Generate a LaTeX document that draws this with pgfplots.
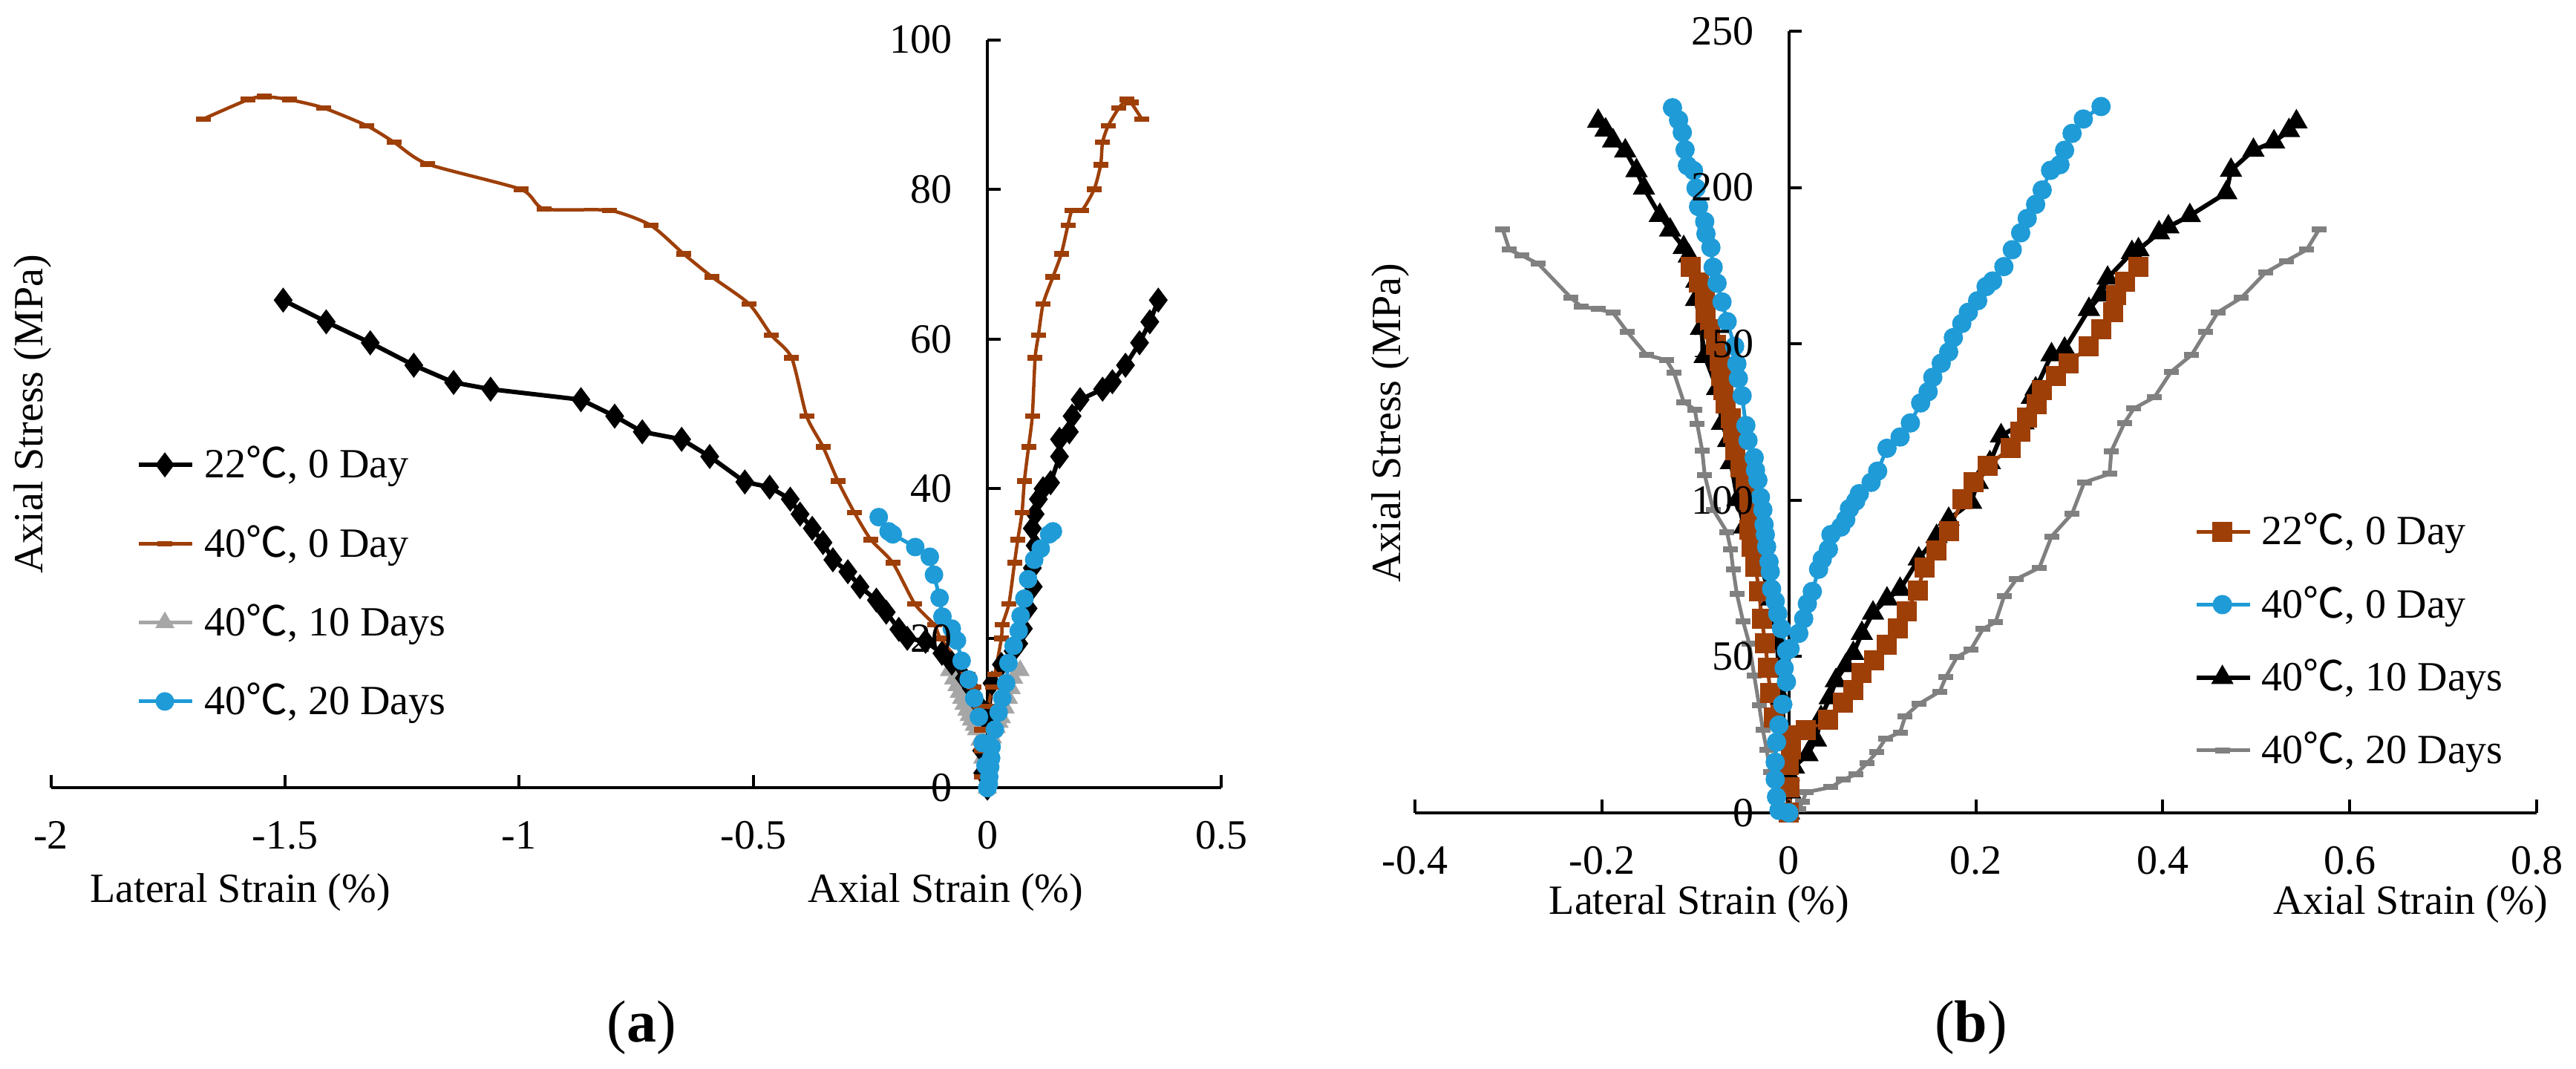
\documentclass[border=0pt]{standalone}
\usepackage{fontspec}
\setmainfont{Liberation Serif}
\newfontfamily\cjk{Noto Sans CJK SC}
\usepackage{pgfplots}
\pgfplotsset{compat=1.18}
\definecolor{cOr}{HTML}{9E3F08}
\definecolor{cBl}{HTML}{1F9BD7}
\definecolor{cGa}{HTML}{A6A6A6}
\definecolor{cGb}{HTML}{808080}
\newcommand{\dc}{{\cjk ℃}}
\newcommand{\fs}{\fontsize{11.2}{13.4}\selectfont}
\pgfplotsset{
  layers/mylayers/.define layer set={axis background,axis grid,axis ticks,axis lines,pre main,main,axis tick labels,axis descriptions,axis foreground}{
    grid style={/pgfplots/on layer=axis grid},
    tick style={/pgfplots/on layer=axis ticks},
    axis line style={/pgfplots/on layer=axis lines},
    label style={/pgfplots/on layer=axis descriptions},
    legend style={/pgfplots/on layer=axis descriptions},
    title style={/pgfplots/on layer=axis descriptions},
    colorbar style={/pgfplots/on layer=axis descriptions},
    ticklabel style={/pgfplots/on layer=axis tick labels},
    axis background@ style={/pgfplots/on layer=axis background},
    3d box foreground style={/pgfplots/on layer=axis foreground},
  },
  myaxis/.style={
    set layers=mylayers,
    scale only axis, anchor=south west, clip=false,
    axis x line=bottom, axis y line=middle,
    axis line style={-, line width=0.8pt, black},
    inner axis line style={-},
    tick align=inside,
    major tick length=3.5pt,
    tick style={line width=0.8pt, black},
    tick label style={font=\fs},
    /pgf/number format/assume math mode=true,
    xticklabel style={yshift=-5.5pt},
    yticklabel style={xshift=-6pt},
    hide obscured x ticks=false, hide obscured y ticks=false,
    legend cell align=left,
    legend image code/.code={\draw[mark repeat=2,mark phase=2] plot coordinates {(0pt,0pt) (7pt,0pt) (14.4pt,0pt)};},
  },
  sA1/.style={black, line width=1.2pt, mark=diamond*, mark size=2.4pt},
  sA2/.style={cOr, line width=0.9pt, mark=-, mark size=2pt, mark options={line width=1.5pt}},
  sA3/.style={cGa, line width=1pt, mark=triangle*, mark size=2pt},
  sA4/.style={cBl, line width=1pt, mark=*, mark size=2pt},
  sB1/.style={cOr, line width=1pt, mark=square*, mark size=2.2pt},
  sB2/.style={cBl, line width=1pt, mark=*, mark size=2.1pt},
  sB3/.style={black, line width=1.2pt, mark=triangle*, mark size=2.3pt},
  sB4/.style={cGb, line width=1pt, mark=-, mark size=2pt, mark options={line width=1.6pt}},
}
\begin{document}
\begin{tikzpicture}
\path (0,0) rectangle (694pt,288pt);
% ---------------- panel (a)
\begin{axis}[myaxis, at={(13.72pt,75.7pt)}, width=315.36pt, height=201.58pt,
  xmin=-2, xmax=0.5, ymin=0, ymax=100,
  xtick={-2,-1.5,-1,-0.5,0,0.5}, ytick={0,20,40,60,80,100},
  legend style={draw=none, fill=none, font=\fs, at={(0.0726,0.4677)}, anchor=north west, inner sep=0pt, row sep=7.2pt, nodes={inner xsep=2.6pt}}]
\addlegendimage{sA1}\addlegendentry{22\dc, 0 Day}
\addlegendimage{sA2}\addlegendentry{40\dc, 0 Day}
\addlegendimage{sA3}\addlegendentry{40\dc, 10 Days}
\addlegendimage{sA4}\addlegendentry{40\dc, 20 Days}
% 40C 10 days (gray triangles)
\addplot[sA3, forget plot] coordinates {(-0.081,15.7) (-0.072,14.6) (-0.065,13.7) (-0.060,12.8) (-0.055,12.0) (-0.050,11.2) (-0.044,10.4) (-0.039,9.7) (-0.034,9.1) (-0.028,8.4) (-0.023,7.8) (-0.016,6.4) (-0.010,4.0) (-0.005,2.0) (0,0)};
\addplot[sA3, forget plot] coordinates {(0,0) (0.002,1.4) (0.005,4.7) (0.011,6.7) (0.019,8.1) (0.025,8.8) (0.030,9.4) (0.038,10.7) (0.045,12.0) (0.051,13.3) (0.056,14.7) (0.070,15.7)};
% 22C 0 day (black diamonds)
\addplot[sA1, forget plot] coordinates {(-1.504,65.2) (-1.412,62.3) (-1.318,59.5) (-1.225,56.5) (-1.140,54.2) (-1.061,53.3) (-0.868,51.9) (-0.796,49.7) (-0.737,47.6) (-0.653,46.6) (-0.593,44.3) (-0.518,40.9) (-0.465,40.2) (-0.421,38.6) (-0.400,36.6) (-0.374,34.7) (-0.351,32.8) (-0.330,30.5) (-0.298,28.9) (-0.272,26.9) (-0.237,25.1) (-0.216,23.5) (-0.189,21.2) (-0.171,20.0) (-0.132,19.6) (-0.097,18.0) (-0.076,16.7) (-0.049,14.7) (-0.034,13.3) (-0.018,11.1) (-0.008,9.5) (-0.012,5.0) (-0.010,2.0) (0,0)};
\addplot[sA1, forget plot] coordinates {(0,0) (0.001,5.0) (0.002,9.8) (0.010,14.0) (0.030,16.5) (0.055,18.3) (0.067,19.3) (0.077,21.3) (0.087,24.0) (0.098,26.9) (0.096,29.4) (0.102,32.4) (0.096,34.7) (0.102,36.6) (0.109,38.6) (0.119,40.0) (0.135,40.8) (0.154,44.3) (0.154,46.6) (0.175,47.6) (0.181,49.7) (0.198,51.9) (0.246,53.3) (0.267,54.3) (0.295,56.5) (0.325,59.5) (0.347,62.3) (0.365,65.2)};
% 40C 0 day (orange dashes)
\addplot[sA2, smooth, tension=0.4, forget plot] coordinates {(-1.675,89.4) (-1.579,92.0) (-1.544,92.4) (-1.491,92.0) (-1.418,90.9) (-1.325,88.5) (-1.267,86.3) (-1.196,83.4) (-0.996,80.0) (-0.947,77.4) (-0.807,77.2) (-0.719,75.2) (-0.649,71.4) (-0.588,68.3) (-0.509,64.7) (-0.461,60.5) (-0.418,57.5) (-0.386,49.7) (-0.351,45.6) (-0.319,41.0) (-0.284,36.8) (-0.249,33.2) (-0.202,30.1) (-0.155,24.6) (-0.113,21.8) (-0.100,20.0) (-0.041,15.2) (-0.029,13.5) (-0.016,10.9) (-0.013,7.8) (-0.013,5.0) (-0.012,1.5) (0,0)};
\addplot[sA2, smooth, tension=0.4, forget plot] coordinates {(0,0) (0.003,5.0) (0.003,10.9) (0.011,13.5) (0.016,15.2) (0.030,20.0) (0.032,21.8) (0.046,24.6) (0.058,30.1) (0.065,33.2) (0.074,36.8) (0.079,41.0) (0.088,45.6) (0.096,49.7) (0.102,57.5) (0.109,60.5) (0.119,64.7) (0.140,68.3) (0.158,71.4) (0.172,75.2) (0.181,77.2) (0.202,77.2) (0.228,80.0) (0.242,83.3) (0.246,86.3) (0.258,88.5) (0.281,90.9) (0.298,92.0) (0.307,91.6) (0.330,89.4)};
% 40C 20 days (blue circles)
\addplot[sA4, forget plot] coordinates {(-0.232,36.2) (-0.211,34.3) (-0.202,33.9) (-0.154,32.2) (-0.123,30.9) (-0.114,28.5) (-0.102,25.4) (-0.096,22.9) (-0.076,21.3) (-0.065,19.7) (-0.055,17.0) (-0.040,14.5) (-0.028,12.0) (-0.018,9.5) (-0.010,6.0) (-0.004,3.0) (0,0)};
\addplot[sA4, forget plot] coordinates {(0,0) (0.003,0.5) (0.004,1.5) (0.006,2.8) (0.008,4.0) (0.009,5.5) (0.016,7.8) (0.024,10.1) (0.032,12.0) (0.040,14.0) (0.045,16.7) (0.056,19.0) (0.067,21.0) (0.071,23.0) (0.079,25.3) (0.087,27.9) (0.100,30.5) (0.114,32.0) (0.132,33.9) (0.140,34.3)};
\end{axis}
% ---------------- panel (b)
\begin{axis}[myaxis, at={(381.2pt,69pt)}, width=302.2pt, height=210.6pt,
  xmin=-0.4, xmax=0.8, ymin=0, ymax=250,
  xtick={-0.4,-0.2,0,0.2,0.4,0.6,0.8}, ytick={0,50,100,150,200,250},
  legend style={draw=none, fill=none, font=\fs, at={(0.694,0.394)}, anchor=north west, inner sep=0pt, row sep=5.6pt, nodes={inner xsep=2.6pt}}]
\addlegendimage{sB1}\addlegendentry{22\dc, 0 Day}
\addlegendimage{sB2}\addlegendentry{40\dc, 0 Day}
\addlegendimage{sB3}\addlegendentry{40\dc, 10 Days}
\addlegendimage{sB4}\addlegendentry{40\dc, 20 Days}
% 40C 20 days (gray)
\addplot[sB4, forget plot] coordinates {(-0.306,186.5) (-0.299,180.1) (-0.286,178.3) (-0.268,175.6) (-0.233,164.7) (-0.222,161.9) (-0.204,161.1) (-0.188,159.9) (-0.173,153.9) (-0.152,146.4) (-0.131,144.8) (-0.123,140.9) (-0.1125,131.4) (-0.1006,129.0) (-0.098,124.3) (-0.0927,115.9) (-0.0900,108.0) (-0.0808,96.9) (-0.0662,89.8) (-0.0622,84.3) (-0.0596,77.9) (-0.0556,70.0) (-0.049,61.3) (-0.0424,54.2) (-0.0371,43.9) (-0.0318,34.4) (-0.0278,26.5) (-0.0238,20.2) (-0.0199,13.1) (-0.0146,5.1) (-0.005,0.5) (0,0)};
\addplot[sB4, forget plot] coordinates {(0,0) (0.0106,1.2) (0.0146,3.5) (0.0185,6.6) (0.045,8.2) (0.0582,10.6) (0.0715,12.3) (0.0834,15.8) (0.094,19.4) (0.1033,23.7) (0.119,25.7) (0.1245,30.9) (0.139,34.8) (0.1615,38.8) (0.168,43.5) (0.180,49.9) (0.1946,52.2) (0.2078,58.9) (0.221,60.9) (0.2303,69.3) (0.2436,74.8) (0.268,78.4) (0.281,88.4) (0.303,95.7) (0.316,105.7) (0.343,108.4) (0.345,115.7) (0.359,124.7) (0.369,129.3) (0.391,132.9) (0.409,141.1) (0.431,146.5) (0.446,153.8) (0.459,160.1) (0.484,164.7) (0.510,172.8) (0.532,176.5) (0.554,180.1) (0.567,186.5)};
% 40C 10 days (black triangles)
\addplot[sB3, forget plot] coordinates {(-0.204,221.2) (-0.196,218.4) (-0.188,214.9) (-0.175,211.7) (-0.163,205.4) (-0.155,199.8) (-0.138,191.1) (-0.127,186.4) (-0.1125,180.8) (-0.107,178.1) (-0.099,170.0) (-0.0993,164.2) (-0.094,155.0) (-0.090,146.0) (-0.0768,135.7) (-0.0715,124.6) (-0.0649,119.1) (-0.062,112.0) (-0.055,100.2) (-0.0477,91.4) (-0.036,84.0) (-0.029,78.0) (-0.0185,68.4) (-0.0159,62.1) (-0.013,55.0) (-0.0106,46.3) (-0.008,36.7) (-0.004,24.0) (-0.002,9.4) (0,0)};
\addplot[sB3, forget plot] coordinates {(0,0) (0.0013,6.7) (0,12.3) (0.0053,14.7) (0.0199,18.6) (0.029,23.3) (0.0344,30.5) (0.0437,36.8) (0.0503,42.3) (0.0609,47.1) (0.0689,51.0) (0.0781,57.4) (0.090,63.9) (0.105,68.4) (0.119,71.5) (0.139,81.2) (0.158,88.4) (0.171,93.9) (0.195,99.3) (0.202,105.7) (0.215,112.0) (0.227,120.6) (0.251,124.7) (0.260,132.9) (0.264,135.6) (0.281,146.5) (0.295,148.3) (0.321,161.0) (0.334,165.6) (0.341,171.0) (0.367,179.2) (0.374,180.1) (0.396,185.5) (0.406,187.4) (0.429,191.0) (0.468,198.3) (0.473,205.5) (0.497,211.9) (0.519,214.6) (0.535,218.2) (0.543,221.0)};
% 22C 0 day (orange squares)
\addplot[sB1, forget plot] coordinates {(-0.1046,174.5) (-0.0966,169.7) (-0.090,165.0) (-0.0887,159.9) (-0.0847,154.7) (-0.078,149.6) (-0.074,144.4) (-0.0728,139.7) (-0.070,135.3) (-0.0675,131.0) (-0.062,126.2) (-0.0596,121.5) (-0.057,115.9) (-0.0516,110.4) (-0.0463,105.6) (-0.0423,100.1) (-0.0410,94.6) (-0.0423,90.6) (-0.0397,85.1) (-0.0357,78.7) (-0.0318,70.8) (-0.0291,62.1) (-0.0252,54.2) (-0.0225,46.3) (-0.0199,38.4) (-0.0159,30.4) (0.0015,24.0) (0.0026,20.2) (0,15.4) (0.001,8.3) (0,0)};
\addplot[sB1, forget plot] coordinates {(0,0) (0.001,8.3) (0,15.4) (0.0026,20.2) (0.0026,24.9) (0.0185,26.5) (0.0423,29.7) (0.0582,35.2) (0.0689,39.2) (0.078,44.7) (0.0913,48.7) (0.1046,53.8) (0.1165,59.0) (0.1258,64.5) (0.1377,71.2) (0.145,78.4) (0.158,83.9) (0.171,90.2) (0.186,100.2) (0.198,105.7) (0.213,111.1) (0.237,116.6) (0.248,122.0) (0.255,126.5) (0.265,130.7) (0.271,135.1) (0.286,139.8) (0.299,143.8) (0.321,149.2) (0.334,154.7) (0.347,160.1) (0.350,165.6) (0.360,169.8) (0.374,174.7)};
% 40C 0 day (blue circles)
\addplot[sB2, forget plot] coordinates {(-0.1245,225.5) (-0.118,221.6) (-0.114,217.6) (-0.111,212.1) (-0.1085,207.0) (-0.102,205.4) (-0.0993,199.8) (-0.0966,193.9) (-0.090,189.1) (-0.0887,185.2) (-0.0834,180.8) (-0.081,174.5) (-0.0768,169.4) (-0.0715,163.4) (-0.066,157.1) (-0.058,149.2) (-0.0556,143.6) (-0.054,138.9) (-0.050,133.4) (-0.046,123.9) (-0.0437,119.1) (-0.0371,113.6) (-0.0357,109.6) (-0.0331,106.4) (-0.0304,100.9) (-0.0278,96.9) (-0.0265,92.2) (-0.0252,89.0) (-0.0238,85.1) (-0.0212,80.3) (-0.0199,77.1) (-0.0185,71.6) (-0.0146,67.7) (-0.0119,63.7) (-0.0079,58.9) (-0.0026,51.8) (-0.005,46.3) (-0.0026,41.9) (-0.0066,34.7) (-0.0106,28.1) (-0.0132,22.6) (-0.0146,16.2) (-0.0146,10.7) (-0.0132,5.1) (-0.0106,0.8) (0,0)};
\addplot[sB2, forget plot] coordinates {(0.0013,52.5) (0.0106,57.4) (0.0159,62.1) (0.0198,66.9) (0.0251,70.8) (0.0318,77.9) (0.0357,81.1) (0.0423,84.3) (0.045,89.0) (0.0556,91.4) (0.0609,93.8) (0.0648,97.3) (0.0715,99.7) (0.0754,102.1) (0.088,105.7) (0.095,109.3) (0.105,116.6) (0.119,120.2) (0.130,124.7) (0.141,131.1) (0.149,134.7) (0.154,139.3) (0.163,143.8) (0.171,147.4) (0.176,152.0) (0.185,156.5) (0.192,160.1) (0.202,163.8) (0.211,168.3) (0.218,170.1) (0.230,174.7) (0.239,180.1) (0.248,185.5) (0.255,190.1) (0.264,194.6) (0.271,199.2) (0.280,205.5) (0.290,207.3) (0.295,211.9) (0.303,217.3) (0.315,221.9) (0.334,225.9)};
\end{axis}
% ---------------- titles
\node[font=\fs, rotate=90] at (8.8pt,176.4pt) {Axial Stress (MPa)};
\node[font=\fs] at (64.7pt,47.6pt) {Lateral Strain (\%)};
\node[font=\fs] at (254.8pt,47.6pt) {Axial Strain (\%)};
\node[font=\fontsize{16}{19}\selectfont] at (172.8pt,11.2pt) {(\textbf{a})};
\node[font=\fs, rotate=90] at (374.6pt,174pt) {Axial Stress (MPa)};
\node[font=\fs] at (457.8pt,44.4pt) {Lateral Strain (\%)};
\node[font=\fs] at (649.5pt,44.4pt) {Axial Strain (\%)};
\node[font=\fontsize{16}{19}\selectfont] at (531pt,11.2pt) {(\textbf{b})};
\end{tikzpicture}
\end{document}
